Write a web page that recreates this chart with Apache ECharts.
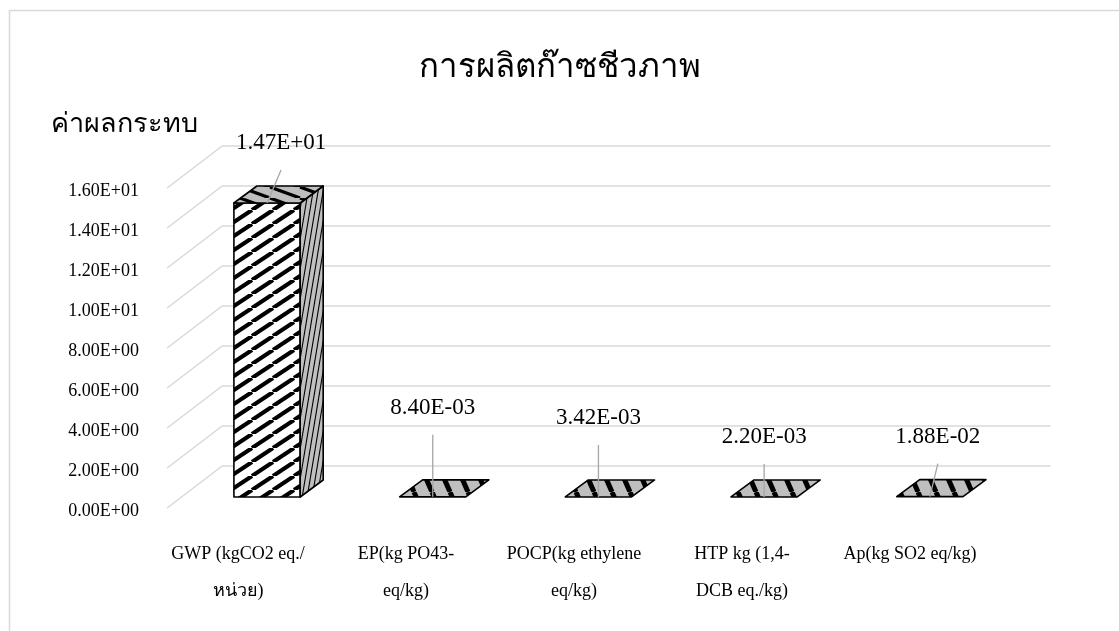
<!DOCTYPE html>
<html>
<head>
<meta charset="utf-8">
<script src="https://cdn.jsdelivr.net/npm/echarts@6/dist/echarts.min.js"></script>
<style>
  html, body { margin: 0; padding: 0; background: #ffffff; }
  #chart { width: 1119px; height: 631px; }
</style>
</head>
<body>
<div id="chart"></div>
<script>
// Impact categories and their values
const categories = [
  "GWP (kgCO2 eq./\nหน่วย)",
  "EP(kg PO43-\neq/kg)",
  "POCP(kg ethylene\neq/kg)",
  "HTP kg (1,4-\nDCB eq./kg)",
  "Ap(kg SO2 eq/kg)"
];
const values = [14.7, 0.0084, 0.00342, 0.0022, 0.0188];
const yTicks = [0, 2, 4, 6, 8, 10, 12, 14, 16];

const titleText = "การผลิตก๊าซชีวภาพ";
const yAxisTitle = "ค่าผลกระทบ";

// Data-label placement (pixels above the bar top, horizontal nudge)
const labelRise = [60, 89, 79, 60, 60];
const labelShift = [14, 0, 0, 0, 8];

const SERIF = '"Liberation Serif", "Times New Roman", serif';
const GRID_COLOR = '#d9d9d9';

// Scientific notation in the style 1.47E+01
function sci(v) {
  const s = Number(v).toExponential(2);
  const parts = s.split('e');
  let exp = parseInt(parts[1], 10);
  const sign = exp < 0 ? '-' : '+';
  exp = Math.abs(exp);
  return parts[0] + 'E' + sign + (exp < 10 ? '0' + exp : String(exp));
}

// Repeating stripe tiles used as pattern fills
function stripeTile(w, h, bg, fg, lw, backslash) {
  const c = document.createElement('canvas');
  c.width = w; c.height = h;
  const g = c.getContext('2d');
  g.fillStyle = bg;
  g.fillRect(0, 0, w, h);
  g.strokeStyle = fg;
  g.lineWidth = lw;
  g.lineCap = 'butt';
  for (let k = -1; k <= 1; k++) {
    g.beginPath();
    if (backslash) {
      g.moveTo(k * w, 0);
      g.lineTo((k + 1) * w, h);
    } else {
      g.moveTo(k * w, h);
      g.lineTo((k + 1) * w, 0);
    }
    g.stroke();
  }
  return { image: c, repeat: 'repeat' };
}

const frontFill = stripeTile(21, 14, '#ffffff', '#000000', 4.1, false);
const sideFill = stripeTile(5, 30, '#bfbfbf', '#000000', 1.1, false);
const topFill = stripeTile(18, 41, '#bfbfbf', '#000000', 5, true);
// the lid of a tall column shows the stripes at a shallower angle
const lidFill = stripeTile(30, 11, '#bfbfbf', '#000000', 3.2, true);

// Oblique depth of the bars and of the walls relative to the bar plane
const DEPTH = [23, -17];
const FRONT_WALL = [-17, 11];
const BACK_WALL = [38, -31];

const chart = echarts.init(document.getElementById('chart'), null, { renderer: 'canvas' });

const option = {
  animation: false,
  backgroundColor: '#ffffff',
  title: [
    {
      text: titleText,
      left: 'center',
      top: 47,
      textStyle: { fontFamily: SERIF, fontSize: 33, fontWeight: 'normal', color: '#000000' }
    },
    {
      text: yAxisTitle,
      left: 46,
      top: 106,
      textStyle: { fontFamily: SERIF, fontSize: 27, fontWeight: 'normal', color: '#000000' }
    }
  ],
  graphic: [
    {
      type: 'rect',
      shape: { x: 9.5, y: 10.5, width: 1200, height: 700 },
      style: { fill: 'none', stroke: GRID_COLOR, lineWidth: 1.5 },
      silent: true
    }
  ],
  grid: [
    // plane of the bar front faces
    { left: 184.2, right: 106.3, top: 177, bottom: 134 },
    // front wall carrying the axis labels
    { left: 154, right: 125, top: 191, bottom: 120 }
  ],
  xAxis: [
    {
      gridIndex: 0, type: 'category', data: categories,
      show: false
    },
    {
      gridIndex: 1, type: 'category', data: categories,
      axisLine: { show: false }, axisTick: { show: false },
      axisLabel: {
        interval: 0, margin: 25, fontFamily: SERIF, fontSize: 18,
        lineHeight: 37, color: '#000000', align: 'center'
      }
    }
  ],
  yAxis: [
    {
      gridIndex: 0, type: 'value', min: 0, max: 16, interval: 2,
      show: false, splitLine: { show: false }
    },
    {
      gridIndex: 1, type: 'value', min: 0, max: 16, interval: 2,
      axisLine: { show: false }, axisTick: { show: false },
      splitLine: { show: false },
      axisLabel: {
        margin: 15, fontFamily: SERIF, fontSize: 18, color: '#000000',
        formatter: sci
      }
    }
  ],
  series: [
    // left wall and back wall gridlines
    {
      type: 'custom',
      xAxisIndex: 0, yAxisIndex: 0,
      data: yTicks.map(function (t) { return [0, t]; }),
      silent: true,
      clip: false,
      z: 1,
      renderItem: function (params, api) {
        const cs = params.coordSys;
        const v = api.value(1);
        const y = api.coord([0, v])[1];
        const fx = cs.x + FRONT_WALL[0], fy = y + FRONT_WALL[1];
        const bx = cs.x + BACK_WALL[0], by = y + BACK_WALL[1];
        const ex = cs.x + cs.width + BACK_WALL[0];
        return {
          type: 'polyline',
          shape: { points: [[fx, fy], [bx, by], [ex, by]] },
          style: { stroke: GRID_COLOR, lineWidth: 1.5, fill: null }
        };
      }
    },
    // 3D columns with value labels
    {
      type: 'custom',
      xAxisIndex: 0, yAxisIndex: 0,
      data: values.map(function (v, i) { return [i, v]; }),
      clip: false,
      z: 2,
      renderItem: function (params, api) {
        const i = api.value(0);
        const v = api.value(1);
        const base = api.coord([i, 0]);
        const top = api.coord([i, v]);
        const w = api.size([1, 0])[0] * 0.4;
        const x0 = base[0] - w / 2;
        const x1 = x0 + w;
        const yb = base[1];
        const yt = top[1];
        const dx = DEPTH[0], dy = DEPTH[1];
        const edge = { stroke: '#000000', lineWidth: 1.6, lineJoin: 'round' };
        const children = [];
        const tall = yb - yt >= 1;
        if (tall) {
          children.push({
            type: 'rect',
            shape: { x: x0, y: yt, width: w, height: yb - yt },
            style: Object.assign({ fill: frontFill }, edge)
          });
          children.push({
            type: 'polygon',
            shape: { points: [[x1, yb], [x1 + dx, yb + dy], [x1 + dx, yt + dy], [x1, yt]] },
            style: Object.assign({ fill: sideFill }, edge)
          });
        }
        children.push({
          type: 'polygon',
          shape: { points: [[x0, yt], [x0 + dx, yt + dy], [x1 + dx, yt + dy], [x1, yt]] },
          style: Object.assign({ fill: tall ? lidFill : topFill }, edge)
        });
        // value label with leader line
        const cx = (x0 + x1) / 2;
        const lx = cx + labelShift[i];
        const ly = yt - labelRise[i];
        children.push({
          type: 'line',
          shape: { x1: lx, y1: ly + 27, x2: cx, y2: yt },
          style: { stroke: '#a6a6a6', lineWidth: 1.3 }
        });
        children.push({
          type: 'text',
          style: {
            text: sci(v), x: lx, y: ly,
            align: 'center', verticalAlign: 'middle',
            fontFamily: SERIF, fontSize: 23, fill: '#000000'
          }
        });
        return { type: 'group', children: children };
      }
    }
  ]
};

chart.setOption(option);
</script>
</body>
</html>
